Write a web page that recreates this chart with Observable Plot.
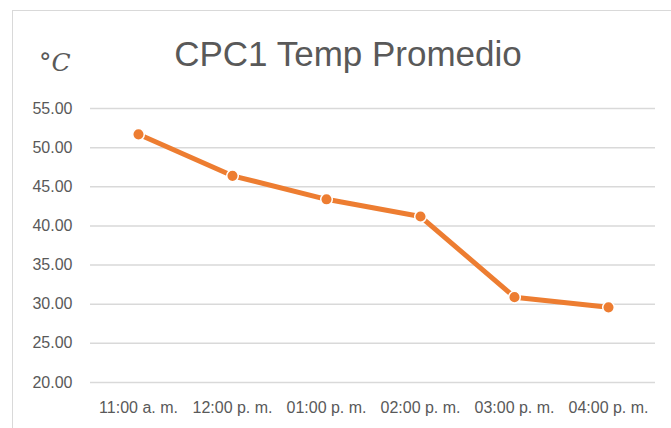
<!DOCTYPE html>
<html>
<head>
<meta charset="utf-8">
<script src="https://cdn.jsdelivr.net/npm/d3@7"></script>
<script src="https://cdn.jsdelivr.net/npm/@observablehq/plot@0.6"></script>
<style>
  html, body { margin: 0; padding: 0; background: #fff; }
  #wrap { position: relative; width: 671px; height: 428px; overflow: hidden; font-family: "Liberation Sans", Arial, sans-serif; }
  #frame { position: absolute; left: 12px; top: 10px; width: 700px; height: 450px; border: 1.5px solid #d9d9d9; box-sizing: border-box; }
  #title { position: absolute; left: 0; width: 696px; top: 36px; line-height: 1; text-align: center; font-size: 35px; color: #595959; white-space: nowrap; }
  #unit { position: absolute; left: 39px; top: 50px; line-height: 1; font-size: 25px; color: #595959; font-family: "DejaVu Serif", serif; }
  #unit i { font-style: italic; }
  #chart { position: absolute; left: 0; top: 0; }
</style>
</head>
<body>
<div id="wrap">
  <div id="frame"></div>
  <div id="title">CPC1 Temp Promedio</div>
  <div id="unit">°<i>C</i></div>
  <div id="chart"></div>
</div>
<script>
const times = ["11:00 a. m.", "12:00 p. m.", "01:00 p. m.", "02:00 p. m.", "03:00 p. m.", "04:00 p. m."];
const temps = [51.7, 46.4, 43.4, 41.2, 30.9, 29.6];
const yTicks = [20, 25, 30, 35, 40, 45, 50, 55];

const data = times.map((t, i) => ({time: t, temp: temps[i]}));

const chart = Plot.plot({
  width: 671,
  height: 428,
  marginLeft: 90,
  marginRight: 16,
  marginTop: 108,
  marginBottom: 46,
  style: {fontFamily: "Liberation Sans, Arial, sans-serif", fontSize: "16px", color: "#595959", background: "transparent"},
  x: {type: "point", domain: times, padding: 0.5, label: null, tickSize: 0, tickPadding: 19},
  y: {domain: [20, 55], ticks: yTicks, tickFormat: d3.format(".2f"), label: null, tickSize: 0, tickPadding: 18},
  marks: [
    Plot.gridY(yTicks, {stroke: "#d9d9d9", strokeOpacity: 1, strokeWidth: 1.5}),
    Plot.line(data, {x: "time", y: "temp", stroke: "#ED7D31", strokeWidth: 5}),
    Plot.dot(data, {x: "time", y: "temp", r: 5.8, fill: "#ED7D31", stroke: "#fff", strokeWidth: 1.5})
  ]
});
chart.style.background = "transparent";
document.getElementById("chart").appendChild(chart);
</script>
</body>
</html>
